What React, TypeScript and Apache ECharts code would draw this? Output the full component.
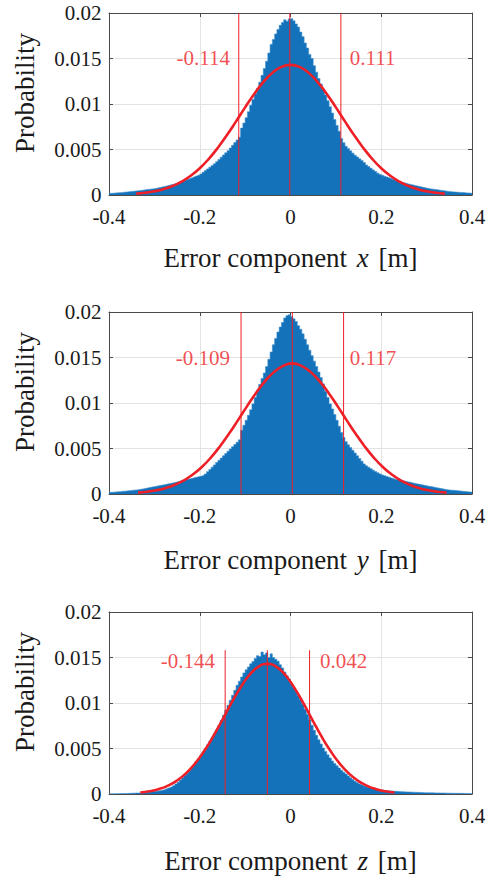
import React, { useEffect, useRef } from 'react';
import * as echarts from 'echarts';

// ---------- data ----------
const BIN_START = -0.4;
const BIN_WIDTH = 0.005;
const PROB_UNIT = 1e-4; // histogram / curve values are given in units of 1e-4

const HIST_X = [
  1.8, 2.0, 2.2, 2.4, 2.6, 2.8, 3.1, 3.3, 3.6, 3.9,
  4.1, 4.4, 4.7, 5.0, 5.3, 5.7, 6.0, 6.3, 6.6, 6.9,
  7.3, 7.9, 8.5, 9.1, 9.7, 10.2, 10.9, 11.5, 12.1, 12.7,
  13.4, 14.2, 15.1, 16.0, 16.9, 17.8, 18.8, 19.8, 20.8, 21.6,
  23.0, 24.9, 26.8, 28.7, 30.6, 32.5, 34.4, 36.6, 39.1, 41.6,
  44.0, 46.3, 48.6, 51.6, 54.6, 57.6, 60.5, 63.5, 73.5, 79.0,
  85.0, 91.5, 98.5, 105, 111, 117, 124, 131.5, 139, 147,
  156, 165.5, 171, 177, 182, 186.5, 189.5, 192.5, 191, 193.5,
  194, 191.5, 188, 184.5, 179, 174, 167, 161.5, 154.5, 150,
  142, 135, 128, 122, 116, 110, 103.5, 97, 90, 83,
  76.5, 70, 62, 57.5, 53.5, 51, 48.5, 46, 43.8, 41.8,
  39.8, 37.8, 35.7, 33, 31.2, 29.4, 27.6, 25.8, 24.0, 22.6,
  21.6, 20.7, 19.8, 18.9, 18.0, 17.1, 16.2, 15.3, 14.4, 13.5,
  12.8, 12.2, 11.6, 11.1, 10.5, 9.9, 9.3, 8.7, 8.2, 7.6,
  7.1, 6.7, 6.4, 6.0, 5.7, 5.3, 4.9, 4.6, 4.2, 3.9,
  3.6, 3.4, 3.2, 3.0, 2.8, 2.7, 2.5, 2.3, 2.1, 1.9,
];

const HIST_Y = [
  1.8, 2.0, 2.2, 2.4, 2.6, 2.9, 3.1, 3.4, 3.6, 3.9,
  4.2, 4.4, 4.7, 5.1, 5.6, 6.1, 6.6, 7.1, 7.6, 8.1,
  8.6, 9.0, 9.5, 10.0, 10.5, 11.0, 11.5, 12.0, 12.6, 13.2,
  13.8, 14.4, 15.0, 15.6, 16.2, 16.8, 17.4, 18.0, 18.6, 19.2,
  19.8, 20.5, 22, 24.5, 27, 29.5, 32, 34.5, 37, 39.5,
  42, 44.5, 47, 49.5, 52, 54.3, 56.8, 59.5, 70, 75.5,
  81, 86.5, 92.5, 99, 106, 113.5, 120.5, 127, 133, 140,
  148, 156, 164, 171, 178, 183.5, 188.5, 193.5, 196, 197,
  195, 192.5, 189.5, 185, 181, 176, 170, 164, 158, 152,
  146, 140, 134, 128, 121, 113, 106, 99, 93.5, 87.5,
  81, 74.5, 67.5, 62, 57.5, 54, 51, 48, 45, 42,
  39, 36, 33, 31, 29.4, 27.8, 26.2, 24.8, 23.4, 22.1,
  21, 20.1, 19.3, 18.5, 17.6, 16.8, 16, 15.5, 14.9, 14.4,
  13.9, 13.3, 12.8, 12.2, 11.6, 11.1, 10.6, 10.1, 9.6, 9.1,
  8.6, 8.2, 7.7, 7.2, 6.7, 6.2, 5.7, 5.3, 4.8, 4.5,
  4.2, 4.0, 3.8, 3.5, 3.3, 3.0, 2.8, 2.6, 2.3, 2.1,
];

const HIST_Z = [
  0.3, 0.3, 0.4, 0.4, 0.5, 0.5, 0.6, 0.6, 0.7, 0.8,
  0.9, 1.0, 1.1, 1.2, 1.4, 1.6, 1.9, 2.1, 2.4, 2.7,
  3.0, 3.4, 3.8, 4.3, 4.9, 5.7, 6.6, 7.7, 9.2, 10.9,
  12.9, 15.3, 17.8, 20.3, 22.9, 25.6, 28.9, 32.2, 35.6, 38.9,
  42.3, 46, 50, 54, 58.2, 62.2, 66.3, 70.5, 75.5, 81,
  86.5, 92, 97.5, 103, 108.5, 114, 119.5, 124, 128.5, 133,
  136.5, 139.5, 143, 145.5, 149, 152, 151, 156, 153, 155,
  150, 154, 150, 148, 146, 142, 138.5, 134, 130, 126,
  121.5, 117, 112.5, 108, 103.5, 98.5, 93, 87.5, 81.5, 75.5,
  70, 64.5, 59.5, 55, 50.5, 46.8, 43, 39.5, 36.2, 33.5,
  31, 28.5, 26.2, 24, 22, 19.8, 17.8, 15.8, 13.9, 12.5,
  11.1, 9.9, 8.8, 7.9, 7.1, 6.4, 5.8, 5.3, 4.9, 4.5,
  4.2, 3.9, 3.6, 3.4, 3.2, 3.0, 2.9, 2.7, 2.6, 2.4,
  2.3, 2.2, 2.1, 2.0, 1.9, 1.8, 1.7, 1.6, 1.5, 1.4,
  1.35, 1.3, 1.25, 1.2, 1.15, 1.1, 1.05, 1.0, 0.95, 0.9,
  0.85, 0.8, 0.78, 0.75, 0.72, 0.7, 0.65, 0.6, 0.55, 0.5,
];

// fitted normal curves (x positions, values in 1e-4)
const CURVE_X_POS = [
  -0.34, -0.32, -0.30, -0.28, -0.26, -0.24, -0.22, -0.20, -0.18, -0.16, -0.14, -0.12,
  -0.10, -0.08, -0.06, -0.04, -0.02, 0.00, 0.02, 0.04, 0.06, 0.08, 0.10, 0.12,
  0.14, 0.16, 0.18, 0.20, 0.22, 0.24, 0.26, 0.28, 0.30, 0.32, 0.34,
];
const CURVE_X_VAL = [
  1.5, 2.5, 4.1, 6.4, 9.9, 14.7, 21.1, 29.4, 39.7, 52.0, 65.9, 80.9,
  96.3, 111.0, 124.0, 134.2, 140.8, 143.0, 140.8, 134.2, 124.0, 111.0, 96.3, 80.9,
  65.9, 52.0, 39.7, 29.4, 21.1, 14.7, 9.9, 6.4, 4.1, 2.5, 1.5,
];
const CURVE_Y_POS = [
  -0.336, -0.316, -0.296, -0.276, -0.256, -0.236, -0.216, -0.196, -0.176, -0.156, -0.136, -0.116,
  -0.096, -0.076, -0.056, -0.036, -0.016, 0.004, 0.024, 0.044, 0.064, 0.084, 0.104, 0.124,
  0.144, 0.164, 0.184, 0.204, 0.224, 0.244, 0.264, 0.284, 0.304, 0.324, 0.344,
];
const CURVE_Y_VAL = [
  1.5, 2.5, 4.1, 6.4, 9.9, 14.7, 21.1, 29.4, 39.7, 52.0, 65.9, 80.9,
  96.3, 111.0, 124.0, 134.2, 140.8, 143.5, 140.8, 134.2, 124.0, 111.0, 96.3, 80.9,
  65.9, 52.0, 39.7, 29.4, 21.1, 14.7, 9.9, 6.4, 4.1, 2.5, 1.5,
];
const CURVE_Z_POS = [
  -0.331, -0.311, -0.291, -0.271, -0.251, -0.231, -0.211, -0.191, -0.171, -0.151,
  -0.131, -0.111, -0.091, -0.071, -0.051, -0.031, -0.011, 0.009, 0.029, 0.049,
  0.069, 0.089, 0.109, 0.129, 0.149, 0.169, 0.189, 0.209, 0.229,
];
const CURVE_Z_VAL = [
  1.6, 3.0, 5.3, 9.0, 14.5, 22.4, 33.1, 46.6, 62.7, 80.7,
  99.2, 116.4, 130.5, 139.8, 143.0, 139.8, 130.5, 116.4, 99.2, 80.7,
  62.7, 46.6, 33.1, 22.4, 14.5, 9.0, 5.3, 3.0, 1.6,
];

// vertical lines: lower bound, mean, upper bound
const VLINES_X = [-0.114, -0.0015, 0.111];
const VLINES_Y = [-0.109, 0.004, 0.117];
const VLINES_Z = [-0.144, -0.051, 0.042];
const VLINE_TOPS = [0.02, 0.02, 0.0158];

const BOUND_LABELS = [
  ['-0.114', '0.111'],
  ['-0.109', '0.117'],
  ['-0.144', '0.042'],
];
// anchor positions of the labels: [left label right-edge x, right label left-edge x, y]
const LABEL_ANCHORS = [
  [-0.1333, 0.1305, 0.0151],
  [-0.1333, 0.1305, 0.0150],
  [-0.1665, 0.0648, 0.0146],
];

const X_TITLES = ['x', 'y', 'z'];
const Y_TITLE = 'Probability';
const X_TICK_MIN = -0.4;
const X_TICK_MAX = 0.4;
const X_TICK_STEP = 0.2;
const Y_TICK_MIN = 0;
const Y_TICK_MAX = 0.02;
const Y_TICK_STEP = 0.005;

// ---------- styles ----------
const W = 495;
const H = 882;
const GRID_LEFT = 109;
const GRID_W = 363;
const GRID_H = 182;
const GRID_TOPS = [13, 312, 612];
const XTITLE_OFFS = [63, 66, 67];
const HIST_COLOR = '#1372ba';
const RED = '#ee1f26';
const AX = '#4a4a4a';
const TXT = '#1a1a1a';
const GRIDC = '#e3e3e3';
const SERIF = 'Liberation Serif';

const PANELS = [
  { hist: HIST_X, cx: CURVE_X_POS, cy: CURVE_X_VAL, lines: VLINES_X },
  { hist: HIST_Y, cx: CURVE_Y_POS, cy: CURVE_Y_VAL, lines: VLINES_Y },
  { hist: HIST_Z, cx: CURVE_Z_POS, cy: CURVE_Z_VAL, lines: VLINES_Z },
];

function buildOption() {
  const grid: any[] = [];
  const xAxis: any[] = [];
  const yAxis: any[] = [];
  const series: any[] = [];
  const graphic: any[] = [];

  PANELS.forEach((p, k) => {
    grid.push({ left: GRID_LEFT, top: GRID_TOPS[k], width: GRID_W, height: GRID_H, containLabel: false });
    const xBase = {
      type: 'value', gridIndex: k, min: X_TICK_MIN, max: X_TICK_MAX, interval: X_TICK_STEP,
      axisLine: { show: true, onZero: false, lineStyle: { color: AX, width: 1 } },
      axisTick: { show: true, inside: true, length: 4, lineStyle: { color: AX } },
    };
    xAxis.push({
      ...xBase, position: 'bottom',
      axisLabel: {
        show: true, margin: 14, fontSize: 21, lineHeight: 16, fontFamily: SERIF, color: TXT,
        formatter: (v: number) => String(+v.toFixed(1)),
      },
      splitLine: { show: true, lineStyle: { color: GRIDC, width: 1 } },
    });
    xAxis.push({ ...xBase, position: 'top', axisLabel: { show: false }, splitLine: { show: false } });
    const yBase = {
      type: 'value', gridIndex: k, min: Y_TICK_MIN, max: Y_TICK_MAX, interval: Y_TICK_STEP,
      axisLine: { show: true, onZero: false, lineStyle: { color: AX, width: 1 } },
      axisTick: { show: true, inside: true, length: 4, lineStyle: { color: AX } },
    };
    yAxis.push({
      ...yBase, position: 'left',
      axisLabel: {
        show: true, margin: 7.5, fontSize: 21, lineHeight: 14, fontFamily: SERIF, color: TXT,
        formatter: (v: number) => String(+v.toFixed(3)),
      },
      splitLine: { show: true, lineStyle: { color: GRIDC, width: 1 } },
    });
    yAxis.push({ ...yBase, position: 'right', axisLabel: { show: false }, splitLine: { show: false } });

    const xi = 2 * k;
    const yi = 2 * k;

    // histogram drawn as one stepped area (bin left edges + closing right edge)
    const histData: number[][] = p.hist.map((v, i) => [BIN_START + i * BIN_WIDTH, v * PROB_UNIT]);
    histData.push([BIN_START + p.hist.length * BIN_WIDTH, p.hist[p.hist.length - 1] * PROB_UNIT]);
    series.push({
      type: 'line',
      xAxisIndex: xi,
      yAxisIndex: yi,
      silent: true,
      z: 2,
      step: 'end',
      symbol: 'none',
      lineStyle: { width: 0.6, color: '#3d8fcf' },
      areaStyle: { color: HIST_COLOR, opacity: 1, origin: 'start' },
      data: histData,
    });

    p.lines.forEach((lx) => {
      series.push({
        type: 'line', xAxisIndex: xi, yAxisIndex: yi, silent: true, z: 3,
        symbol: 'none',
        lineStyle: { color: RED, width: 1 },
        data: [[lx, 0], [lx, VLINE_TOPS[k]]],
      });
    });

    series.push({
      type: 'line', xAxisIndex: xi, yAxisIndex: yi, silent: true, z: 4,
      symbol: 'none', smooth: true,
      lineStyle: { color: RED, width: 2.6 },
      data: p.cx.map((x, i) => [x, p.cy[i] * PROB_UNIT]),
    });

    const an = LABEL_ANCHORS[k];
    series.push({
      type: 'scatter', xAxisIndex: xi, yAxisIndex: yi, silent: true, z: 5,
      symbolSize: 0,
      data: [
        { value: [an[0], an[2]], name: BOUND_LABELS[k][0], label: { position: 'left' } },
        { value: [an[1], an[2]], name: BOUND_LABELS[k][1], label: { position: 'right' } },
      ],
      label: {
        show: true, distance: 0, formatter: (d: any) => d.name,
        fontSize: 21, fontFamily: SERIF, color: RED,
      },
    });

    const top = GRID_TOPS[k];
    graphic.push({
      type: 'text',
      x: GRID_LEFT + GRID_W / 2,
      y: top + GRID_H + XTITLE_OFFS[k],
      silent: true,
      style: {
        text: 'Error component {i|' + X_TITLES[k] + '} [m]',
        fontSize: 27, fontFamily: SERIF, fill: TXT,
        align: 'center', verticalAlign: 'middle',
        textAlign: 'center', textVerticalAlign: 'middle',
        rich: { i: { fontStyle: 'italic', fontSize: 27, fontFamily: SERIF, fill: TXT, color: TXT, padding: [0, 3, 0, 3] } },
      },
    });
    graphic.push({
      type: 'text',
      x: 25,
      y: top + GRID_H / 2 - 11,
      rotation: Math.PI / 2,
      silent: true,
      style: {
        text: Y_TITLE,
        fontSize: 27, fontFamily: SERIF, fill: TXT,
        align: 'center', verticalAlign: 'middle',
        textAlign: 'center', textVerticalAlign: 'middle',
      },
    });
  });

  return {
    animation: false,
    backgroundColor: '#ffffff',
    grid, xAxis, yAxis, series, graphic,
  };
}

export default function App() {
  const ref = useRef<HTMLDivElement>(null);
  useEffect(() => {
    if (!ref.current) return;
    const chart = echarts.init(ref.current, undefined, { renderer: 'svg' });
    chart.setOption(buildOption() as any);
    return () => chart.dispose();
  }, []);
  return (
    <div
      ref={ref}
      style={{ position: 'absolute', left: 0, top: 0, width: W, height: H, background: '#fff' }}
    />
  );
}
